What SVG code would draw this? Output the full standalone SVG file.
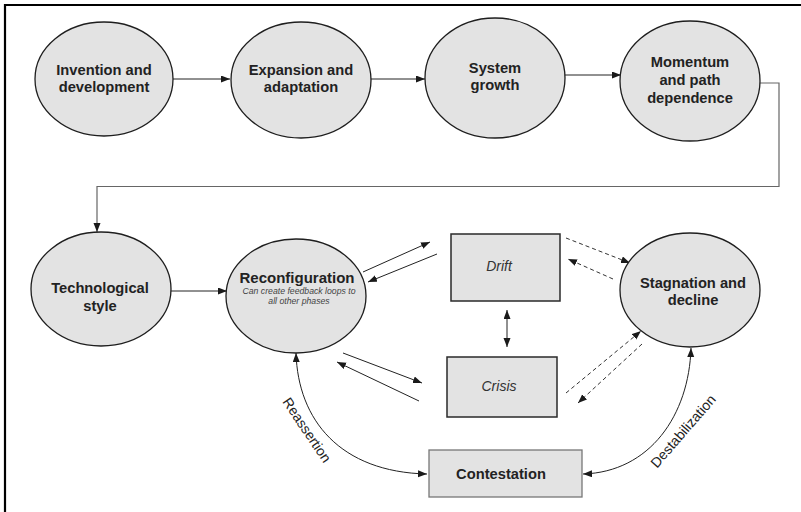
<svg xmlns="http://www.w3.org/2000/svg" width="801" height="512" viewBox="0 0 801 512">
<style>
.node ellipse{fill:#e3e3e3;stroke:#1e1e1e;stroke-width:1.3}
.box{fill:#e3e3e3;stroke:#2a2a2a;stroke-width:1.5}
.b{font-family:"Liberation Sans",Arial,sans-serif;font-weight:bold;font-size:14.7px;fill:#222;text-anchor:middle}
.i{font-family:"Liberation Sans",Arial,sans-serif;font-style:italic;font-size:14px;fill:#333;text-anchor:middle}
.s{font-family:"Liberation Sans",Arial,sans-serif;font-style:italic;font-size:8.7px;fill:#444;text-anchor:middle}
.l{font-family:"Liberation Sans",Arial,sans-serif;font-size:14px;fill:#222;text-anchor:middle}
.c{fill:none;stroke:#222;stroke-width:1}
.d{fill:none;stroke:#333;stroke-width:1;stroke-dasharray:4 3}
</style>
<defs>
<marker id="ah" markerUnits="userSpaceOnUse" markerWidth="10" markerHeight="8" refX="9" refY="3.5" orient="auto-start-reverse">
<path d="M0,0 L9,3.5 L0,7 z" fill="#1a1a1a"/>
</marker>
</defs>
<rect width="801" height="512" fill="#ffffff"/>
<path d="M5,520 V5 H810" fill="none" stroke="#000" stroke-width="2.2"/>

<g id="connectors">
<path class="c" d="M173,79 H230" marker-end="url(#ah)"/>
<path class="c" d="M371,79 H425" marker-end="url(#ah)"/>
<path class="c" d="M565,75 H621" marker-end="url(#ah)"/>
<path d="M760,83 H779 V186.5 H97 V232" fill="none" stroke="#666" stroke-width="1.2" marker-end="url(#ah)"/>
<path class="c" d="M171,291 H227" stroke="#555" marker-end="url(#ah)"/>
<path class="c" d="M363,272 L430,242" marker-end="url(#ah)"/>
<path class="c" d="M437,254 L368,282" marker-end="url(#ah)"/>
<path class="c" d="M343,353 L422,383" marker-end="url(#ah)"/>
<path class="c" d="M419,401 L337,362" marker-end="url(#ah)"/>
<path class="c" d="M507,310 V347" marker-start="url(#ah)" marker-end="url(#ah)"/>
<path class="d" d="M566,238 L630,263" marker-end="url(#ah)"/>
<path class="d" d="M613,279 L568,259" marker-end="url(#ah)"/>
<path class="d" d="M566,393 L641,331" marker-end="url(#ah)"/>
<path class="d" d="M642,344 L578,403" marker-end="url(#ah)"/>
<path class="c" d="M296,353 C298,420 340,472 427,474" marker-start="url(#ah)" marker-end="url(#ah)"/>
<path class="c" d="M691,348 C689,415 650,472 583,474" marker-start="url(#ah)" marker-end="url(#ah)"/>
<text class="l" transform="translate(307,430) rotate(56)" dy="5">Reassertion</text>
<text class="l" transform="translate(683,431) rotate(-49)" dy="5">Destabilization</text>
</g>

<g id="invention" class="node">
<ellipse cx="104" cy="79" rx="69" ry="57"/>
<text class="b" x="104" y="75">Invention and</text>
<text class="b" x="104" y="92">development</text>
</g>
<g id="expansion" class="node">
<ellipse cx="301" cy="80" rx="70" ry="58"/>
<text class="b" x="301" y="75">Expansion and</text>
<text class="b" x="301" y="92">adaptation</text>
</g>
<g id="growth" class="node">
<ellipse cx="495" cy="78" rx="70" ry="60"/>
<text class="b" x="495" y="73">System</text>
<text class="b" x="495" y="90">growth</text>
</g>
<g id="momentum" class="node">
<ellipse cx="690" cy="81" rx="70" ry="60"/>
<text class="b" x="690" y="67">Momentum</text>
<text class="b" x="690" y="85">and path</text>
<text class="b" x="690" y="103">dependence</text>
</g>
<g id="style" class="node">
<ellipse cx="101" cy="289" rx="70" ry="57"/>
<text class="b" x="100" y="293">Technological</text>
<text class="b" x="100" y="311">style</text>
</g>
<g id="reconfiguration" class="node">
<ellipse cx="296" cy="296" rx="70" ry="57"/>
<text class="b" x="297" y="283" style="font-size:15px">Reconfiguration</text>
<text class="s" x="299" y="294">Can create feedback loops to</text>
<text class="s" x="299" y="304">all other phases</text>
</g>
<g id="stagnation" class="node">
<ellipse cx="690" cy="290" rx="70" ry="57"/>
<text class="b" x="693" y="288">Stagnation and</text>
<text class="b" x="693" y="305">decline</text>
</g>
<g id="drift">
<rect class="box" x="451" y="234" width="109" height="67"/>
<text class="i" x="499" y="271">Drift</text>
</g>
<g id="crisis">
<rect class="box" x="447" y="357" width="110" height="60"/>
<text class="i" x="499" y="391">Crisis</text>
</g>
<g id="contestation">
<rect x="429" y="450" width="153" height="47" fill="#e3e3e3" stroke="#777" stroke-width="1.3"/>
<text class="b" x="501" y="479">Contestation</text>
</g>
</svg>
